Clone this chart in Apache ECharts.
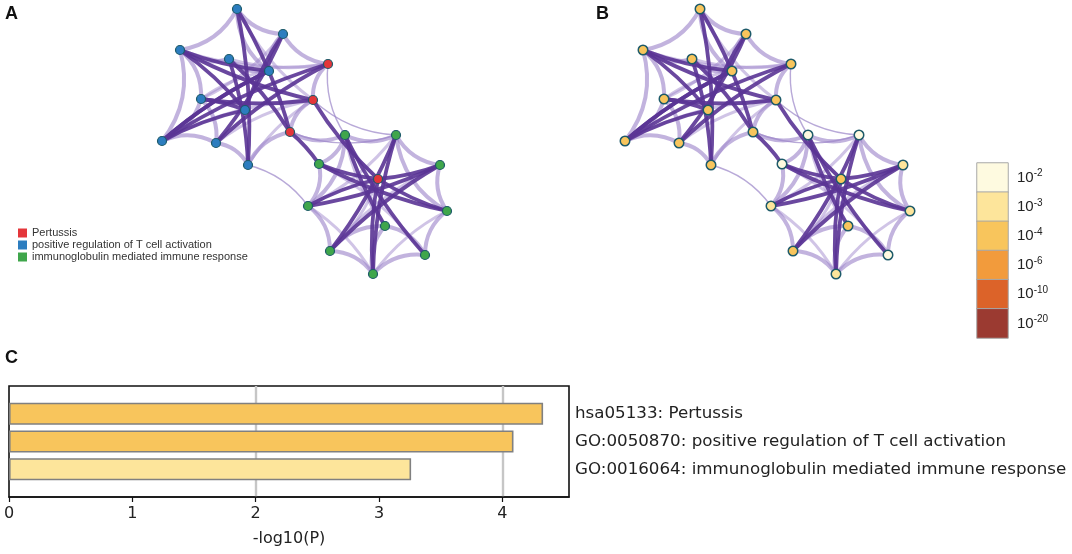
<!DOCTYPE html>
<html>
<head>
<meta charset="utf-8">
<script src="https://cdn.jsdelivr.net/npm/echarts@6/dist/echarts.min.js"></script>
<style>
html,body{margin:0;padding:0;background:#fff}
#chart{width:1072px;height:554px}
</style>
</head>
<body>
<div id="chart"></div>
<script>
// network layout (panel B uses the same layout)
var nodeX = [87,133,30,79,119,51,95,12,66,98,178,163,140,228,195,246,169,290,158,297,235,180,275,223];
var nodeY = [9,34,50,59,71,99,110,141,143,165,64,100,132,179,135,135,164,165,206,211,226,251,255,274];
// term of each node: 0 Pertussis, 1 T cell activation, 2 immunoglobulin
var nodeTerm = [1,1,1,1,1,1,1,1,1,1,0,0,0,0,2,2,2,2,2,2,2,2,2,2];
// p-value bin of each node in panel B (index into pLevels)
var nodeBin = [2,2,2,2,2,2,2,2,2,2,2,2,2,2,0,0,0,1,1,1,2,2,0,1];
var termNames = ['Pertussis', 'positive regulation of T cell activation', 'immunoglobulin mediated immune response'];

// edges, 1-based node numbers
var strongEdges = [[1,10],[2,9],[2,7],[3,7],[3,5],[3,12],[4,10],[5,8],[6,12],[8,11],[9,11],[6,7],[8,7],[4,13],[1,13],[13,17],[12,14],[8,5],
    [15,23],[16,22],[17,20],[18,19],[24,14],[22,18],[21,15],[14,19],[14,20],[17,14],[16,24],[14,18]];
var weakEdges = [[1,2],[1,3],[3,8],[8,9],[9,10],[3,6],[6,8],[2,5],[3,4],[1,5],[2,11],[11,12],[12,13],[6,9],[10,13],[4,5],
    [15,16],[16,18],[18,20],[20,23],[23,24],[24,22],[22,19],[19,17],[17,15],[21,22],[21,23],[15,19],[21,24],[16,20],[13,15]];
var innerEdges = [[3,11],[6,5],[8,12],[9,12],[4,11],[1,12],[2,6],[10,12],
    [15,21],[16,19],[17,23],[18,22],[19,24],[20,24],[22,14],[15,14]];
var thinEdges = [[10,19],[12,16],[11,15],[13,16]];

// colour key
var pLevels = ['-2','-3','-4','-6','-10','-20'];
var pCuts = [2,3,4,6,10,20];

// panel C
var terms = ['hsa05133: Pertussis', 'GO:0050870: positive regulation of T cell activation', 'GO:0016064: immunoglobulin mediated immune response'];
var logP = [4.33, 4.09, 3.26];

var termColors = ['#e4363a', '#2c7dbf', '#3fa64b'];
var binColors = ['#fefae0', '#fde59b', '#f8c55c', '#f29b3c', '#dc6329', '#9b3a31'];

function binOf(v) {
    var k = 0;
    for (var i = 0; i < pCuts.length; i++) { if (v >= pCuts[i]) k = i; }
    return k;
}

// neighbours, used to bend every edge towards its local centre
var all = strongEdges.concat(weakEdges, innerEdges, thinEdges);
var nbrs = nodeX.map(function () { return []; });
all.forEach(function (e) { nbrs[e[0]-1].push(e[1]-1); nbrs[e[1]-1].push(e[0]-1); });

function bend(a, b, amount) {
    var ids = nbrs[a].concat(nbrs[b]);
    var cx = 0, cy = 0;
    ids.forEach(function (k) { cx += nodeX[k]; cy += nodeY[k]; });
    cx /= ids.length; cy /= ids.length;
    var mx = (nodeX[a] + nodeX[b]) / 2, my = (nodeY[a] + nodeY[b]) / 2;
    var nx = nodeY[b] - nodeY[a], ny = nodeX[a] - nodeX[b];
    return ((cx - mx) * nx + (cy - my) * ny) >= 0 ? amount : -amount;
}

function addLinks(links, list, style, curve) {
    list.forEach(function (e) {
        var ls = echarts.util.clone(style);
        ls.curveness = bend(e[0]-1, e[1]-1, curve);
        links.push({source: e[0]-1, target: e[1]-1, lineStyle: ls});
    });
}

function makeLinks() {
    var links = [];
    addLinks(links, thinEdges, {color: '#9a84c8', width: 1.4, opacity: 0.7}, 0.18);
    addLinks(links, innerEdges, {color: '#a18acd', width: 3, opacity: 0.5}, 0.12);
    addLinks(links, weakEdges, {color: '#9c85ca', width: 4, opacity: 0.62}, 0.25);
    addLinks(links, strongEdges, {color: '#5a3495', width: 3.8, opacity: 0.9}, 0.07);
    return links;
}

var nodesA = nodeX.map(function (x, i) {
    return {name: 'n' + i, value: [x, nodeY[i]], category: nodeTerm[i]};
});
var nodesB = nodeX.map(function (x, i) {
    return {name: 'n' + i, value: [x, nodeY[i]], itemStyle: {color: binColors[nodeBin[i]]}};
});

var barData = ['-'].concat(logP.map(function (v) {
    return {value: v, itemStyle: {color: binColors[binOf(v)]}};
}), ['-']);

var keyData = pLevels.map(function (p, i) {
    return {value: [0, i, i], itemStyle: {color: binColors[i]}};
});

var myChart = echarts.init(document.getElementById('chart'));

var letter = {fontSize: 18, fontWeight: 'bold', fontFamily: 'Liberation Sans', color: '#111'};

var option = {
    animation: false,
    backgroundColor: '#fff',
    title: [
        {text: 'A', left: 5, top: 5, padding: 0, textStyle: letter},
        {text: 'B', left: 596, top: 5, padding: 0, textStyle: letter},
        {text: 'C', left: 5, top: 349, padding: 0, textStyle: letter}
    ],
    legend: {
        data: termNames,
        orient: 'vertical',
        left: 13,
        top: 222,
        itemWidth: 9,
        itemHeight: 9,
        itemGap: 0,
        icon: 'rect',
        selectedMode: false,
        itemStyle: {borderWidth: 0},
        textStyle: {fontSize: 11, lineHeight: 12, color: '#333', fontFamily: 'Liberation Sans'}
    },
    grid: [
        {left: 150, top: 0, width: 310, height: 290},
        {left: 613, top: 0, width: 310, height: 290},
        {left: 9, top: 386, width: 560, height: 111, show: true, borderColor: '#111', borderWidth: 1.6},
        {left: 977, top: 163, width: 31, height: 175}
    ],
    xAxis: [
        {gridIndex: 0, type: 'value', min: 0, max: 310, show: false},
        {gridIndex: 1, type: 'value', min: 0, max: 310, show: false},
        {
            gridIndex: 2, type: 'value', min: 0, max: 4.54, interval: 1,
            name: '-log10(P)', nameLocation: 'middle', nameGap: 34,
            nameTextStyle: {fontSize: 16, color: '#222', fontFamily: 'DejaVu Sans'},
            axisLine: {show: true, lineStyle: {color: '#111', width: 1.6}},
            axisTick: {show: true, length: 5, lineStyle: {color: '#111', width: 1.2}},
            axisLabel: {fontSize: 16, color: '#222', fontFamily: 'DejaVu Sans', margin: 9,
                showMaxLabel: false,
                formatter: function (v) { return v % 1 === 0 ? String(v) : ''; }},
            splitLine: {show: false}
        },
        {
            gridIndex: 2, type: 'value', min: 0, max: 4.54, interval: 2, position: 'bottom',
            axisLine: {show: false}, axisTick: {show: false}, axisLabel: {show: false},
            splitLine: {show: true, showMinLine: false, showMaxLine: false, lineStyle: {color: '#c6c6c6', width: 2.4}}
        },
        {gridIndex: 3, type: 'category', data: [''], show: false}
    ],
    yAxis: [
        {gridIndex: 0, type: 'value', min: 0, max: 290, inverse: true, show: false},
        {gridIndex: 1, type: 'value', min: 0, max: 290, inverse: true, show: false},
        {
            gridIndex: 2, type: 'category', data: [''].concat(terms, ['']),
            inverse: true, boundaryGap: false, position: 'right',
            axisLine: {show: false}, axisTick: {show: false}, splitLine: {show: false},
            axisLabel: {fontSize: 16.7, color: '#222', fontFamily: 'DejaVu Sans', margin: 6}
        },
        {
            gridIndex: 3, type: 'category', data: pLevels, inverse: true, position: 'right',
            axisLine: {show: false}, axisTick: {show: false}, splitLine: {show: false},
            axisLabel: {
                margin: 9,
                formatter: function (v) { return '{b|10}{s|' + v + '}'; },
                rich: {
                    b: {fontSize: 15, color: '#222', fontFamily: 'Liberation Sans', lineHeight: 18},
                    s: {fontSize: 10, color: '#222', fontFamily: 'Liberation Sans', verticalAlign: 'top', lineHeight: 18, padding: [0, 0, 6, 0]}
                }
            }
        }
    ],
    series: [
        {
            name: 'network A', type: 'graph', layout: 'none', coordinateSystem: 'cartesian2d',
            xAxisIndex: 0, yAxisIndex: 0, silent: true,
            categories: termNames.map(function (n, i) { return {name: n, itemStyle: {color: termColors[i]}}; }),
            symbolSize: 9,
            itemStyle: {borderColor: '#1d5a69', borderWidth: 1.2},
            data: nodesA,
            links: makeLinks(),
            label: {show: false},
            emphasis: {disabled: true}
        },
        {
            name: 'network B', type: 'graph', layout: 'none', coordinateSystem: 'cartesian2d',
            xAxisIndex: 1, yAxisIndex: 1, silent: true,
            symbolSize: 9.5,
            itemStyle: {borderColor: '#1d5a69', borderWidth: 1.5},
            data: nodesB,
            links: makeLinks(),
            label: {show: false},
            emphasis: {disabled: true}
        },
        {
            name: 'enrichment', type: 'bar', xAxisIndex: 2, yAxisIndex: 2,
            barWidth: 22, silent: true,
            itemStyle: {borderColor: '#808080', borderWidth: 1.6},
            data: barData
        },
        {
            name: 'key', type: 'heatmap', xAxisIndex: 4, yAxisIndex: 3, silent: true,
            itemStyle: {borderColor: '#a8a8a8', borderWidth: 1},
            data: keyData
        }
    ]
};

myChart.setOption(option);
</script>
</body>
</html>
